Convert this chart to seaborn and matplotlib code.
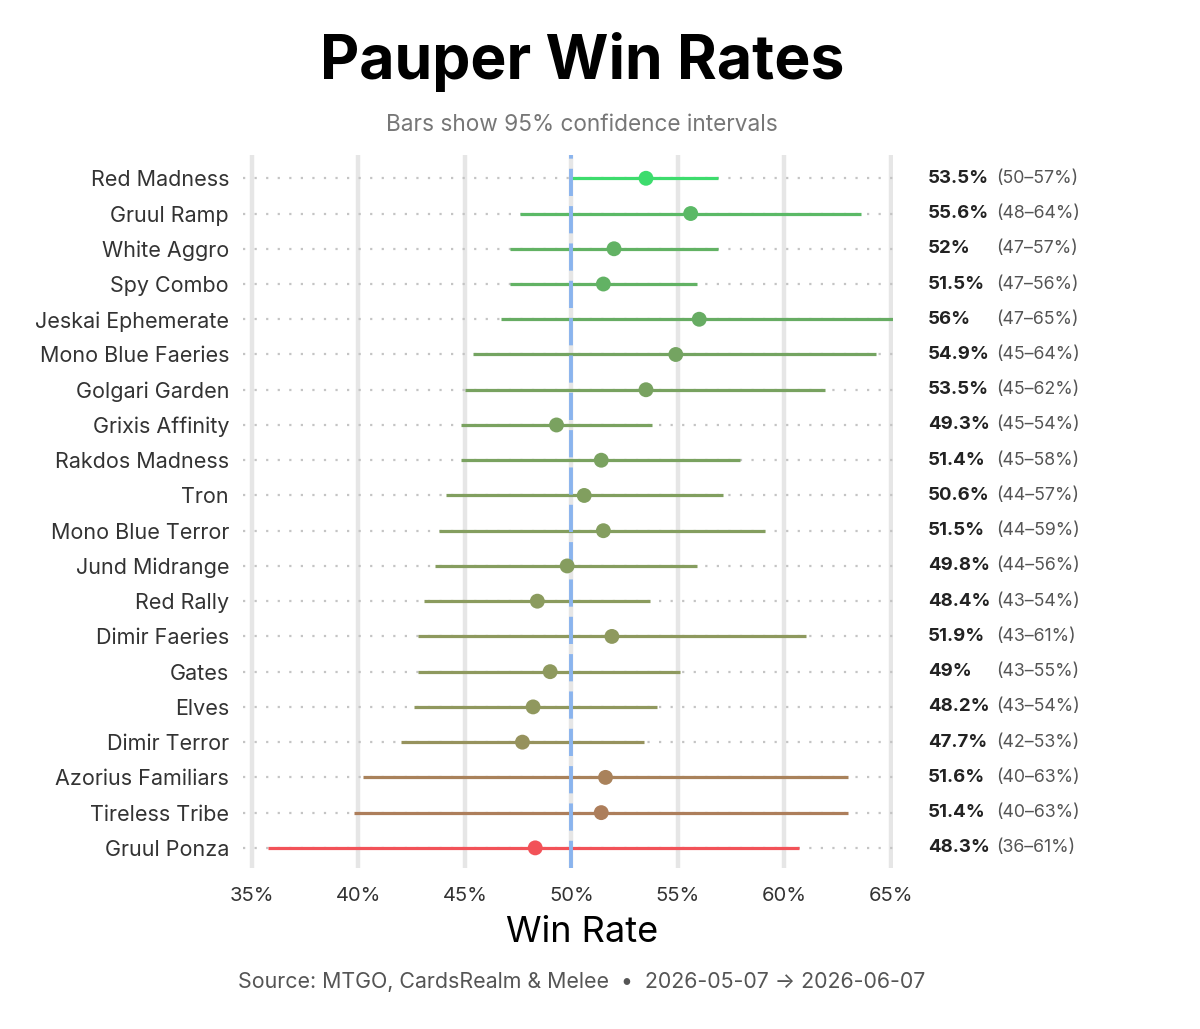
import matplotlib as mpl
mpl.use('Agg')
import matplotlib.pyplot as plt
from matplotlib.colors import LinearSegmentedColormap, Normalize
import numpy as np
import pandas as pd
import seaborn as sns

decks = ['Red Madness', 'Gruul Ramp', 'White Aggro', 'Spy Combo', 'Jeskai Ephemerate',
         'Mono Blue Faeries', 'Golgari Garden', 'Grixis Affinity', 'Rakdos Madness', 'Tron',
         'Mono Blue Terror', 'Jund Midrange', 'Red Rally', 'Dimir Faeries', 'Gates',
         'Elves', 'Dimir Terror', 'Azorius Familiars', 'Tireless Tribe', 'Gruul Ponza']
win_rate = [53.5, 55.6, 52, 51.5, 56, 54.9, 53.5, 49.3, 51.4, 50.6,
            51.5, 49.8, 48.4, 51.9, 49, 48.2, 47.7, 51.6, 51.4, 48.3]
ci_low = [50.0, 47.6, 47.1, 47.1, 46.7, 45.4, 45.0, 44.8, 44.8, 44.1,
          43.8, 43.6, 43.1, 42.8, 42.8, 42.6, 42.0, 40.2, 39.8, 35.75]
ci_high = [56.9, 63.6, 56.9, 55.9, 65.1, 64.3, 61.9, 53.8, 57.9, 57.1,
           59.1, 55.9, 53.7, 61.0, 55.1, 54.0, 53.4, 63.0, 63.0, 60.7]
x_ticks = [35, 40, 45, 50, 55, 60, 65]


def save_graph():
    df = pd.DataFrame({'deck': decks, 'wr': win_rate, 'lo': ci_low, 'hi': ci_high})
    df['pos'] = np.arange(len(df))

    sns.set_style('white')
    plt.rcParams['font.family'] = ['Inter', 'DejaVu Sans']

    # colour from lower bound: red (wide / low) -> green
    cmap = LinearSegmentedColormap.from_list('rg', ['#f25258', '#b27a5a', '#8d9a5e', '#6aa862', '#3ddc6d'])
    norm = Normalize(vmin=df['lo'].min(), vmax=df['lo'].max())
    cols = [cmap(norm(v)) for v in df['lo']]

    f = plt.figure(figsize=(12, 10.29), dpi=100)
    ax = f.add_axes([0.2025, 0.1565, 0.5417, 0.6925])

    for x in x_ticks:
        ax.axvline(x, color='#e6e6e6', lw=3.2, zorder=0)
    for p in df['pos']:
        ax.axhline(p, color='#c4c4c4', lw=1.6, linestyle=(0, (1, 4.2)), zorder=0.5)

    ax.hlines(df['pos'], df['lo'], df['hi'], colors=cols, lw=2.3, zorder=2)
    ax.axvline(50, color='#8ab4ee', lw=2.8, linestyle=(0, (7, 2.6)), zorder=3)
    sns.scatterplot(data=df, x='wr', y='pos', hue='deck', palette=cols, s=115,
                    edgecolor='none', legend=False, ax=ax, zorder=4)

    ax.set_xlim(34.58, 65.1)
    ax.set_ylim(len(df) - 1 + 0.57, -0.65)
    ax.set_xticks(x_ticks)
    ax.set_xticklabels([f'{t}%' for t in x_ticks], fontsize=14.5, color='#333333')
    ax.set_yticks(df['pos'])
    ax.set_yticklabels(df['deck'], fontsize=15.5, color='#333333')
    ax.tick_params(axis='y', length=0, pad=10)
    ax.tick_params(axis='x', length=0, pad=14)
    ax.set_xlabel('')
    ax.set_ylabel('')
    for s in ax.spines.values():
        s.set_visible(False)

    for _, r in df.iterrows():
        ax.annotate(f"{r['wr']:g}%", xy=(1, r['pos']), xycoords=('axes fraction', 'data'),
                    xytext=(25, 0), textcoords='offset points', va='center', ha='left',
                    fontsize=13.4, fontweight='bold', color='#222222')
        ax.annotate(f"({r['lo']:.0f}\u2013{r['hi']:.0f}%)", xy=(1, r['pos']),
                    xycoords=('axes fraction', 'data'), xytext=(74, 0),
                    textcoords='offset points', va='center', ha='left',
                    fontsize=12.8, color='#555555')

    f.text(0.485, 0.940, 'Pauper Win Rates', ha='center', va='center',
           fontsize=43.7, fontweight='bold', color='black')
    f.text(0.485, 0.879, 'Bars show 95% confidence intervals', ha='center', va='center',
           fontsize=16.3, color='#777777')
    f.text(0.485, 0.094, 'Win Rate', ha='center', va='center', fontsize=26, color='black')
    f.text(0.485, 0.046, 'Source: MTGO, CardsRealm & Melee  \u2022  2026-05-07 \u2192 2026-06-07',
           ha='center', va='center', fontsize=15.4, color='#555555')

    plt.savefig('out.png', dpi=100)
    return 'out.png'


if __name__ == "__main__":
    save_graph()
